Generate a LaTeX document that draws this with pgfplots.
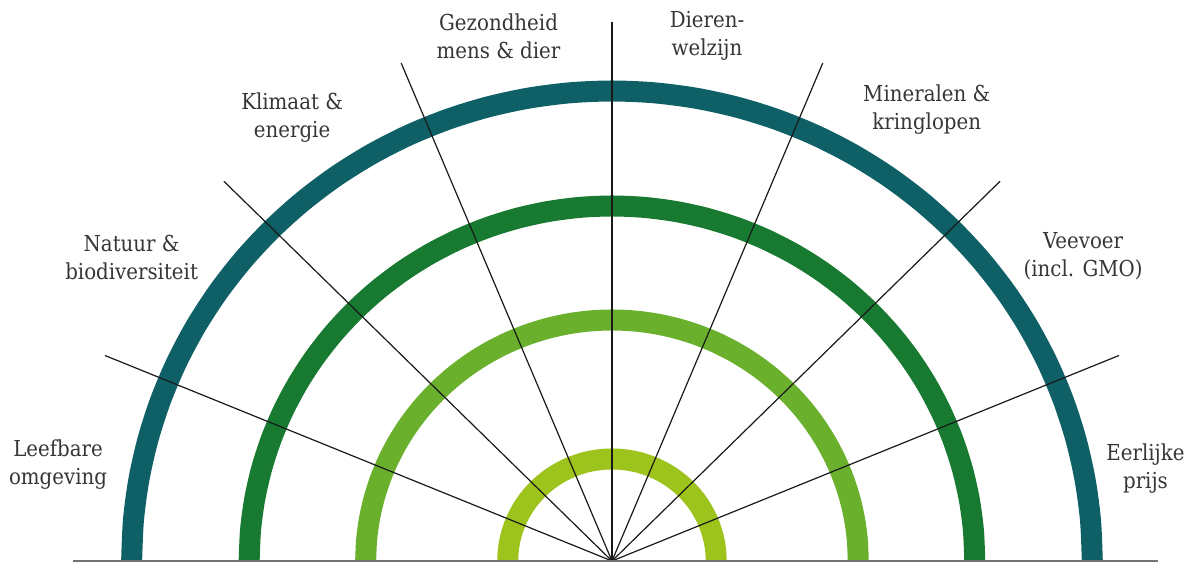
\documentclass[border=0pt]{standalone}
\usepackage{fontspec}
\setmainfont{DejaVu Serif Condensed}
\usepackage{pgfplots}
\usepackage{pgfplotstable}
\pgfplotsset{compat=1.18}

\definecolor{ringA}{HTML}{0F5F67}
\definecolor{ringB}{HTML}{177A30}
\definecolor{ringC}{HTML}{6AB02C}
\definecolor{ringD}{HTML}{9DC41C}
\definecolor{labtext}{HTML}{363636}

\tikzset{lab/.style={align=center, text=labtext, inner sep=0pt,
    font=\fontsize{11}{14}\selectfont}}

% angle (deg) and radius of the four rings
\pgfplotstableread{
a   outer mid inner core
0   470 355 241 102
5   470 355 241 102
10  470 355 241 102
15  470 355 241 102
20  470 355 241 102
25  470 355 241 102
30  470 355 241 102
35  470 355 241 102
40  470 355 241 102
45  470 355 241 102
50  470 355 241 102
55  470 355 241 102
60  470 355 241 102
65  470 355 241 102
70  470 355 241 102
75  470 355 241 102
80  470 355 241 102
85  470 355 241 102
90  470 355 241 102
95  470 355 241 102
100 470 355 241 102
105 470 355 241 102
110 470 355 241 102
115 470 355 241 102
120 470 355 241 102
125 470 355 241 102
130 470 355 241 102
135 470 355 241 102
140 470 355 241 102
145 470 355 241 102
150 470 355 241 102
155 470 355 241 102
160 470 355 241 102
165 470 355 241 102
170 470 355 241 102
175 470 355 241 102
180 470 355 241 102
}\rings

\begin{document}
\begin{tikzpicture}
\begin{axis}[
    hide axis,
    x=0.511pt, y=0.5pt,
    xmin=-598.8, xmax=565.6,
    ymin=-2, ymax=561,
    clip=false,
    ]
\path (axis cs:-598.8,-2) rectangle (axis cs:565.6,561);
% rings
\addplot[data cs=polar, smooth, ringA, line width=10.5pt] table[x=a, y=outer] {\rings};
\addplot[data cs=polar, smooth, ringB, line width=10.5pt] table[x=a, y=mid] {\rings};
\addplot[data cs=polar, smooth, ringC, line width=10.5pt] table[x=a, y=inner] {\rings};
\addplot[data cs=polar, smooth, ringD, line width=10.5pt] table[x=a, y=core] {\rings};
% spokes
\addplot[data cs=polar, black!90, line width=0.6pt] coordinates {(22.5,0) (22.5,537)};
\addplot[data cs=polar, black!90, line width=0.6pt] coordinates {(45,0) (45,537)};
\addplot[data cs=polar, black!90, line width=0.6pt] coordinates {(67.5,0) (67.5,539)};
\addplot[data cs=polar, black!90, line width=0.6pt] coordinates {(90,0) (90,539)};
\addplot[data cs=polar, black!90, line width=0.6pt] coordinates {(112.5,0) (112.5,539)};
\addplot[data cs=polar, black!90, line width=0.6pt] coordinates {(135,0) (135,537)};
\addplot[data cs=polar, black!90, line width=0.6pt] coordinates {(157.5,0) (157.5,537)};
% baseline
\addplot[black!55, line width=0.75pt] coordinates {(-527,0) (534,0)};
% labels
\node[lab] at (axis cs:-542,96)  {Leefbare\\omgeving};
\node[lab] at (axis cs:-470,303) {Natuur \&\\biodiversiteit};
\node[lab] at (axis cs:-313,443) {Klimaat \&\\energie};
\node[lab] at (axis cs:-111,525) {Gezondheid\\mens \& dier};
\node[lab] at (axis cs:93,525)   {Dieren-\\welzijn};
\node[lab] at (axis cs:308,451)  {Mineralen \&\\kringlopen};
\node[lab] at (axis cs:461,305)  {Veevoer\\(incl. GMO)};
\node[lab] at (axis cs:522,92)   {Eerlijke\\prijs};
\end{axis}
\end{tikzpicture}
\end{document}
